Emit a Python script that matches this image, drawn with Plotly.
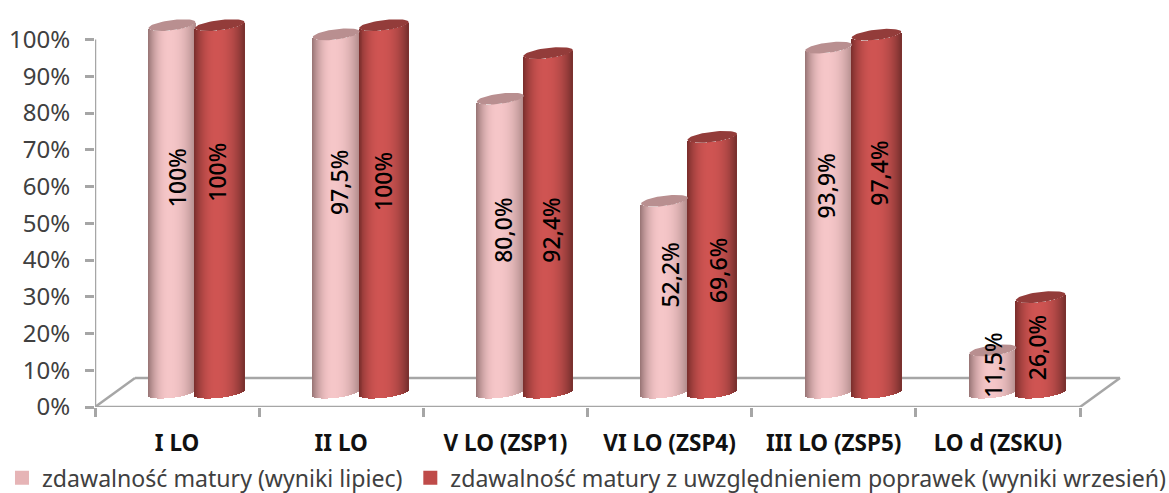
import numpy as np
import plotly.graph_objects as go

categories = ["I LO", "II LO", "V LO (ZSP1)", "VI LO (ZSP4)", "III LO (ZSP5)", "LO d (ZSKU)"]
series_july_name = "zdawalność matury (wyniki lipiec)"
series_sept_name = "zdawalność matury z uwzględnieniem poprawek (wyniki wrzesień)"
july_values = [100, 97.5, 80.0, 52.2, 93.9, 11.5]
sept_values = [100, 100, 92.4, 69.6, 97.4, 26.0]
y_ticks = [0, 10, 20, 30, 40, 50, 60, 70, 80, 90, 100]

# layout constants
W, H = 1169, 493
ML, MB = 95, 86
PX_CAT = 164.17
PX_PCT = 3.675
X_MAX = (W - ML) / PX_CAT
Y_MAX = (H - MB) / PX_PCT
DEPTH_X, DEPTH_Y = 40 / PX_CAT, 29 / PX_PCT
TOP_SHIFT, BASE_SHIFT = 3.9, 3.9
TILT, BULGE = 0.78, 1.4
GRAY = "#a6a6a6"

# hand-placed data label anchors of the source chart
july_label_x = [0.50, 0.486, 0.485, 0.502, 0.447, 0.47]
sept_label_x = [0.743, 0.754, 0.778, 0.795, 0.776, 0.738]
july_label_y = [62.3, 61.2, 48.2, 36.0, 60.0, 11.2]
sept_label_y = [64.0, 61.5, 48.0, 37.0, 63.5, 16.0]


def mix(a, b, f):
    return tuple(int(round(a[i] + (b[i] - a[i]) * f)) for i in range(3))


def shade(u, dark_l, base, dark_r):
    # u in [-1, 1]; the highlight sits left of the middle
    peak = -0.1
    if u < peak:
        f = ((u - peak) / (-1 - peak))
        c = mix(base, dark_l, f ** 2.2)
    else:
        f = ((u - peak) / (1 - peak))
        c = mix(base, dark_r, f ** 2.2)
    return "rgb(%d,%d,%d)" % c


def cylinder_traces(values, center, half, name, dark_l, base, dark_r, top):
    n = int(round(2 * half * PX_CAT))
    us = (np.arange(n) + 0.5) / n * 2 - 1
    xs, bases, heights, colors = [], [], [], []
    for i, v in enumerate(values):
        for u in us:
            front = BULGE * np.sqrt(1 - u * u)
            lo = BASE_SHIFT + TILT * u - front
            hi = v + TOP_SHIFT + TILT * u - front
            xs.append(i + center + u * half)
            bases.append(lo)
            heights.append(hi - lo)
            colors.append(shade(u, dark_l, base, dark_r))
    body = go.Bar(x=xs, y=heights, base=bases, width=1.25 / PX_CAT, name=name,
                  marker=dict(color=colors, line=dict(width=0)),
                  showlegend=False, hoverinfo="skip")
    tx, ty = [], []
    t = np.linspace(0, 2 * np.pi, 61)
    for i, v in enumerate(values):
        tx += list(i + center + half * np.cos(t)) + [None]
        ty += list(v + TOP_SHIFT + TILT * np.cos(t) + BULGE * np.sin(t)) + [None]
    cap = go.Scatter(x=tx, y=ty, mode="lines", fill="toself", fillcolor=top,
                     line=dict(width=0, color=top), showlegend=False, hoverinfo="skip")
    return [body, cap]


fig = go.Figure()
for tr in cylinder_traces(july_values, 0.469, 0.143, series_july_name,
                          (150, 115, 115), (245, 198, 200), (178, 140, 140), "#b98f90"):
    fig.add_trace(tr)
for tr in cylinder_traces(sept_values, 0.76, 0.151, series_sept_name,
                          (120, 45, 43), (207, 84, 82), (120, 48, 46), "#933c3a"):
    fig.add_trace(tr)

fig.add_trace(go.Scatter(x=[None], y=[None], mode="markers", name=series_july_name, legend="legend",
                         marker=dict(symbol="square", size=14, color="#e6b4b6")))
fig.add_trace(go.Scatter(x=[None], y=[None], mode="markers", name=series_sept_name, legend="legend2",
                         marker=dict(symbol="square", size=14, color="#bf4b49")))

n_cat = len(categories)
floor_lines = [
    (0, 0, n_cat, 0),
    (0, 0, DEPTH_X, DEPTH_Y),
    (n_cat, 0, n_cat + DEPTH_X, DEPTH_Y),
    (DEPTH_X, DEPTH_Y, n_cat + DEPTH_X, DEPTH_Y),
    (0, 0, 0, max(y_ticks)),
]
for x0, y0, x1, y1 in floor_lines:
    fig.add_shape(type="line", x0=x0, y0=y0, x1=x1, y1=y1, xref="x", yref="y",
                  layer="below", line=dict(color=GRAY, width=2.5))


def label(v):
    return "100%" if v == 100 else f"{v:.1f}%".replace(".", ",")


annotations = []
for vals, lx, ly in [(july_values, july_label_x, july_label_y), (sept_values, sept_label_x, sept_label_y)]:
    for i, v in enumerate(vals):
        annotations.append(dict(x=i + lx[i], y=ly[i], xref="x", yref="y", text=label(v),
                                textangle=-90, showarrow=False, xanchor="center", yanchor="middle",
                                font=dict(family="Noto Sans", size=23, color="#000000", weight=500)))

legend_style = dict(orientation="h", xref="container", yref="container", y=0.03,
                    xanchor="left", yanchor="middle", bgcolor="rgba(0,0,0,0)",
                    font=dict(family="Noto Sans", size=23.1, color="#404040"))

fig.update_layout(
    width=W, height=H, autosize=False,
    margin=dict(l=ML, r=0, t=0, b=MB, pad=0, autoexpand=False),
    paper_bgcolor="white", plot_bgcolor="white",
    barmode="overlay", bargap=0,
    annotations=annotations,
    xaxis=dict(range=[0, X_MAX], tickmode="array", automargin=False,
               tickvals=[i + 0.5 for i in range(n_cat)], ticktext=categories,
               ticks="", showgrid=False, zeroline=False, showline=False,
               ticklabelstandoff=20,
               tickfont=dict(family="Noto Sans", size=22.5, color="#111111", weight="bold"),
               minor=dict(tickmode="array", tickvals=list(range(n_cat + 1)), ticks="outside",
                          ticklen=9, tickwidth=2.5, tickcolor=GRAY, showgrid=False)),
    yaxis=dict(range=[0, Y_MAX], tickmode="array", tickvals=y_ticks, automargin=False,
               ticktext=[f"{t}%" for t in y_ticks], ticks="outside", ticklen=9, tickwidth=2.5,
               tickcolor=GRAY, showgrid=False, zeroline=False, showline=False,
               ticklabelstandoff=10,
               tickfont=dict(family="Noto Sans", size=24, color="#404040")),
    legend=dict(x=0.0017, **legend_style),
    legend2=dict(x=0.351, **legend_style),
)

fig.write_html("out.html", post_script="document.body.style.margin='0';",
               config=dict(displayModeBar=False))
